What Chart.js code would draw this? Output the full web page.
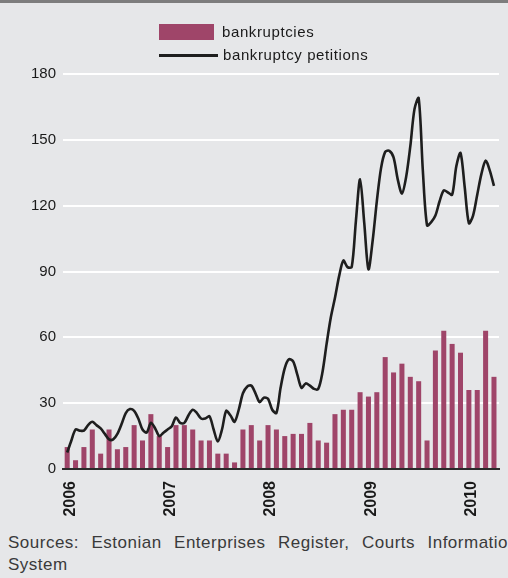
<!DOCTYPE html>
<html>
<head>
<meta charset="utf-8">
<script src="https://cdn.jsdelivr.net/npm/chart.js@4"></script>
<style>
  html, body { margin: 0; padding: 0; }
  body { width: 508px; height: 578px; background: #e6e7e9; position: relative; overflow: hidden;
         font-family: "Liberation Sans", Arial, Helvetica, sans-serif; color: #222; }
  #topbar { position: absolute; left: 0; top: 0; width: 508px; height: 3px; background: #7d7d7d; }
  #chart { position: absolute; left: 0; top: 0; }
  .legend-item { position: absolute; left: 159px; height: 16px; }
  .legend-item span { position: absolute; white-space: nowrap; font-size: 15px; line-height: 16px; letter-spacing: 0.6px; top: 0; color: #1a1a1a; }
  #sw-bar { position: absolute; left: 0; top: 0; width: 55px; height: 16px; background: #9f4569; }
  #sw-line { position: absolute; left: 0; top: 7px; width: 59px; height: 2.5px; background: #1e1e1e; }
  #source { position: absolute; left: 8px; top: 532px; width: 510px; font-size: 17px; line-height: 22px;
            letter-spacing: 0.5px; color: #3a3a3a; }
  #source .l1 { text-align: justify; text-align-last: justify; }
</style>
</head>
<body>
<div id="topbar"></div>
<canvas id="chart" width="508" height="520"></canvas>
<div class="legend-item" style="top:24px"><div id="sw-bar"></div><span style="left:63px">bankruptcies</span></div>
<div class="legend-item" style="top:47px"><div id="sw-line"></div><span style="left:64px">bankruptcy petitions</span></div>
<div id="source">
  <div class="l1">Sources: Estonian Enterprises Register, Courts Information</div>
  <div>System</div>
</div>
<script>
// months from Jan 2006 to Apr 2010
const years = ['2006', '2007', '2008', '2009', '2010'];
const yTicks = [0, 30, 60, 90, 120, 150, 180];

// monthly bankruptcies
const bankruptcies = [
  10, 4, 10, 18, 7, 18, 9, 10, 20, 13, 25, 15,
  10, 20, 20, 18, 13, 13, 7, 7, 3, 18, 20, 13,
  20, 18, 15, 16, 16, 21, 13, 12, 25, 27, 27, 35,
  33, 35, 51, 44, 48, 42, 40, 13, 54, 63, 57, 53,
  36, 36, 63, 42
];

// bankruptcy petitions, read every half month
const petitions = [
  7.5, 13, 18, 17.5, 17.5, 20, 21.5, 20, 18.5, 16, 13.5, 13.5,
  16, 20.5, 25.5, 27.3, 26.5, 23, 18, 16.6, 21, 18.6, 15, 16.5,
  18, 19.5, 23.5, 21, 21, 24.5, 27, 25.5, 23, 23, 24, 18,
  12.5, 18, 26.5, 24.5, 21.5, 27, 34.5, 37.5, 38, 34.5, 30.5, 32.5,
  32, 27, 25.5, 37, 46, 50, 49, 43, 37, 39, 38, 36.5,
  36.5, 44, 57, 69, 78, 88, 95, 92, 92, 113, 132, 112,
  91, 104, 122, 137, 144.5, 145, 142, 132, 125.5, 133, 147, 164,
  169, 136, 111, 112.5, 115.5, 122, 127, 126, 125, 138, 144, 128.5,
  112, 115.5, 125, 134.5, 140.5, 136, 129
];

const barPoints = bankruptcies.map((v, i) => ({ x: i, y: v }));
const linePoints = petitions.map((v, i) => ({ x: i / 2, y: v }));

new Chart(document.getElementById('chart'), {
  data: {
    datasets: [{
      type: 'line',
      label: 'bankruptcy petitions',
      data: linePoints,
      borderColor: '#1e1e1e',
      borderWidth: 2.6,
      pointRadius: 0,
      tension: 0.3,
      order: 0
    }, {
      type: 'bar',
      label: 'bankruptcies',
      data: barPoints,
      backgroundColor: '#9f4569',
      barPercentage: 0.6,
      categoryPercentage: 1,
      order: 1
    }]
  },
  options: {
    responsive: false,
    animation: false,
    devicePixelRatio: 1,
    layout: { padding: { top: 74, right: 9, left: 0, bottom: 0 } },
    plugins: { legend: { display: false }, tooltip: { enabled: false } },
    scales: {
      x: {
        type: 'linear',
        min: -0.5,
        max: 51.6,
        offset: false,
        afterBuildTicks: (scale) => { scale.ticks = years.map((y, i) => ({ value: i * 12 })); },
        afterFit: (scale) => { scale.height = 51; },
        ticks: {
          callback: (v) => years[Math.round(v / 12)],
          minRotation: 90,
          maxRotation: 90,
          labelOffset: 3,
          padding: 4,
          color: '#1a1a1a',
          font: { family: '"Liberation Sans", Arial, sans-serif', size: 16, weight: 'bold' }
        },
        grid: { display: false },
        border: { display: true, color: '#2a2a2a', width: 2 }
      },
      y: {
        min: 0,
        max: 180,
        afterBuildTicks: (scale) => { scale.ticks = yTicks.map(v => ({ value: v })); },
        afterFit: (scale) => { scale.width = 63; },
        ticks: {
          padding: 7,
          color: '#1a1a1a',
          font: { family: '"Liberation Sans", Arial, sans-serif', size: 15 }
        },
        grid: {
          color: (ctx) => ctx.tick && ctx.tick.value === 0 ? 'rgba(0,0,0,0)' : '#ffffff',
          lineWidth: 2,
          drawTicks: false
        },
        border: { display: false }
      }
    }
  }
});
</script>
</body>
</html>
